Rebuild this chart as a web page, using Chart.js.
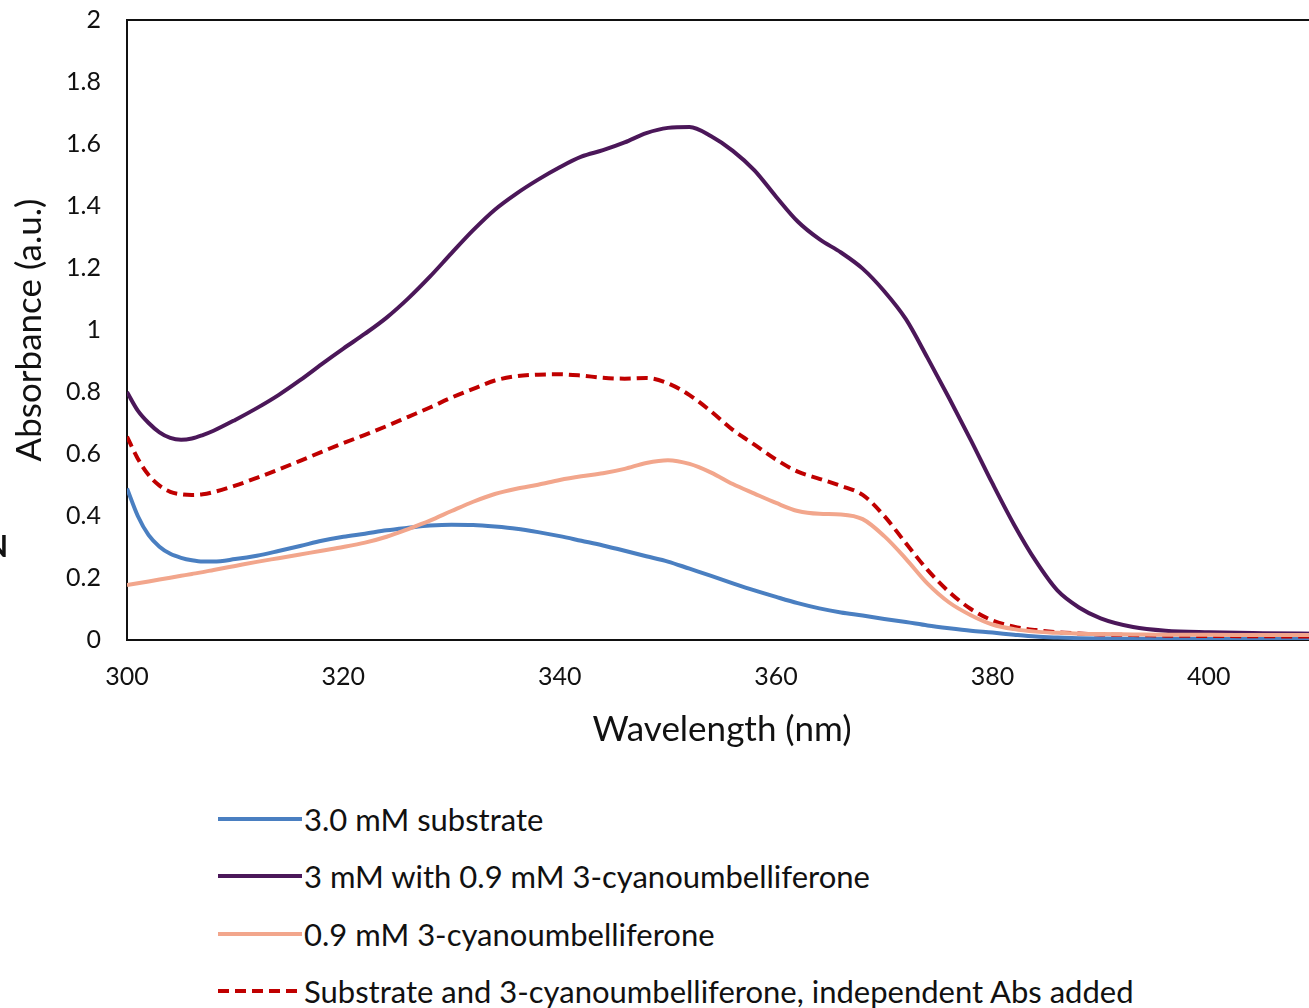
<!DOCTYPE html>
<html>
<head>
<meta charset="utf-8">
<script src="https://cdn.jsdelivr.net/npm/chart.js@4.4.0/dist/chart.umd.min.js"></script>
<style>
  html, body { margin: 0; padding: 0; background: #fff; overflow: hidden; width: 1309px; height: 1008px; }
  #wrap { position: absolute; left: 0; top: 0; width: 1320px; height: 760px; }
  #legend { position: absolute; left: 218px; top: 790px; font-family: Lato, "Open Sans", sans-serif; font-size: 31px; color: #111; }
  .item { height: 57.5px; display: flex; align-items: center; white-space: nowrap; }
  .item svg { width: 84px; height: 10px; margin-right: 2px; flex: none; }
  #tag { position: absolute; left: -15px; top: 527px; font: bold 30px Lato, sans-serif; color: #111; }
</style>
</head>
<body>
<div id="wrap"><canvas id="chart" width="1320" height="760"></canvas></div>
<div id="tag">N</div>
<div id="legend"></div>
<script>
// Wavelength grid (nm)
const wavelengths = [300,301,302,303,304,305,306,307,308,
  310,312,314,316,318,320,322,324,326,328,330,332,334,336,338,340,
  342,344,346,348,350,352,354,356,358,360,362,364,366,368,370,
  372,374,376,378,380,382,384,386,388,390,393,396,400,405,410];

// Absorbance of each sample (a.u.)
const substrate = [0.489,0.400,0.338,0.301,0.278,0.265,0.257,0.253,0.253,
  0.261,0.272,0.287,0.303,0.320,0.333,0.343,0.354,0.362,0.369,0.372,0.371,0.366,0.359,0.348,0.335,
  0.320,0.305,0.288,0.270,0.253,0.230,0.207,0.183,0.160,0.139,0.119,0.102,0.089,0.079,0.068,
  0.058,0.047,0.038,0.030,0.024,0.017,0.011,0.008,0.006,0.005,0.004,0.004,0.004,0.003,0.003];

const mixture = [0.800,0.740,0.700,0.670,0.652,0.646,0.650,0.661,0.675,
  0.710,0.748,0.790,0.838,0.890,0.940,0.988,1.040,1.102,1.172,1.248,1.322,1.388,1.440,1.485,1.525,
  1.559,1.580,1.605,1.635,1.652,1.655,1.625,1.578,1.515,1.430,1.350,1.293,1.250,1.198,1.125,
  1.035,0.910,0.780,0.645,0.505,0.372,0.255,0.160,0.105,0.070,0.042,0.030,0.025,0.022,0.020];

const cyano = [0.177,0.183,0.189,0.195,0.201,0.207,0.213,0.219,0.226,
  0.239,0.252,0.264,0.276,0.288,0.300,0.314,0.333,0.358,0.385,0.416,0.446,0.471,0.488,0.501,0.516,
  0.528,0.538,0.552,0.571,0.580,0.568,0.540,0.503,0.472,0.442,0.416,0.407,0.405,0.390,0.335,
  0.262,0.182,0.121,0.080,0.050,0.035,0.027,0.023,0.020,0.019,0.018,0.017,0.017,0.016,0.016];

const summed = [0.656,0.585,0.532,0.498,0.478,0.470,0.468,0.470,0.477,
  0.498,0.523,0.550,0.578,0.607,0.635,0.662,0.690,0.720,0.750,0.782,0.810,0.837,0.851,0.856,0.857,
  0.853,0.846,0.843,0.845,0.828,0.790,0.737,0.678,0.630,0.582,0.543,0.520,0.497,0.468,0.400,
  0.312,0.226,0.155,0.100,0.063,0.043,0.032,0.025,0.021,0.018,0.016,0.014,0.013,0.012,0.011];

const seriesNames = [
  '3.0 mM substrate',
  '3 mM with 0.9 mM 3-cyanoumbelliferone',
  '0.9 mM 3-cyanoumbelliferone',
  'Substrate and 3-cyanoumbelliferone, independent Abs added'
];

const xTicks = [300, 320, 340, 360, 380, 400];
const yTicks = [0, 0.2, 0.4, 0.6, 0.8, 1, 1.2, 1.4, 1.6, 1.8, 2];
const yTickLabels = ['0','0.2','0.4','0.6','0.8','1','1.2','1.4','1.6','1.8','2'];

const styles = [
  { color: '#4a7fc1', dash: [] },
  { color: '#4b1759', dash: [] },
  { color: '#f2a68c', dash: [] },
  { color: '#c00000', dash: [11, 6] }
];

const seriesValues = [substrate, mixture, cyano, summed];
const toPoints = vals => wavelengths.map((w, i) => ({ x: w, y: vals[i] }));

const datasets = seriesValues.map((vals, i) => ({
  label: seriesNames[i],
  data: toPoints(vals),
  borderColor: styles[i].color,
  borderWidth: 4,
  borderDash: styles[i].dash,
  borderCapStyle: 'butt',
  pointRadius: 0,
  fill: false,
  cubicInterpolationMode: 'monotone'
}));

// Stacking order of the curves (lower order is drawn on top)
const drawOrder = [3, 2, 0, 1];
datasets.forEach((d, i) => { d.order = drawOrder[i]; });

const FONT = 'Lato';

// Plot frame
const framePlugin = {
  id: 'frame',
  beforeDatasetsDraw(chart) {
    const { ctx, chartArea: a } = chart;
    ctx.save();
    ctx.strokeStyle = '#111';
    ctx.lineWidth = 2;
    ctx.beginPath();
    ctx.moveTo(a.left, a.bottom);
    ctx.lineTo(a.left, a.top);
    ctx.lineTo(a.right, a.top);
    ctx.lineTo(a.right, a.bottom);
    ctx.closePath();
    ctx.stroke();
    ctx.restore();
  }
};

new Chart(document.getElementById('chart'), {
  type: 'line',
  data: { datasets },
  plugins: [framePlugin],
  options: {
    responsive: false,
    animation: false,
    layout: { padding: { left: 0, right: 3, top: 0, bottom: 0 } },
    plugins: { legend: { display: false }, tooltip: { enabled: false } },
    scales: {
      x: {
        type: 'linear',
        min: 300,
        max: 410,
        grid: { display: false, drawTicks: false },
        border: { display: false },
        afterBuildTicks: s => { s.ticks = xTicks.map(v => ({ value: v })); },
        afterFit: s => { s.height = 120; },
        ticks: {
          padding: 22,
          color: '#111',
          font: { family: FONT, size: 25 },
          maxRotation: 0
        },
        title: {
          display: true,
          text: 'Wavelength (nm)',
          color: '#111',
          font: { family: FONT, size: 35 },
          padding: { top: 0, bottom: 9 }
        }
      },
      y: {
        min: 0,
        max: 2,
        grid: { display: false, drawTicks: false },
        border: { display: false },
        afterBuildTicks: s => { s.ticks = yTicks.map(v => ({ value: v })); },
        afterFit: s => { s.width = 127; s.paddingTop = 20; s.paddingBottom = 0; },
        ticks: {
          padding: 26,
          color: '#111',
          font: { family: FONT, size: 25 },
          callback: (v) => yTickLabels[yTicks.findIndex(t => Math.abs(t - v) < 1e-9)]
        },
        title: {
          display: true,
          text: 'Absorbance (a.u.)',
          color: '#111',
          font: { family: FONT, size: 35 },
          padding: { top: 9, bottom: 0 }
        }
      }
    }
  }
});

// Vertical legend below the chart
const legend = document.getElementById('legend');
[0, 1, 2, 3].forEach(i => {
  const row = document.createElement('div');
  row.className = 'item';
  const dash = styles[i].dash.length ? ` stroke-dasharray="${styles[i].dash.join(' ')}"` : '';
  row.innerHTML = `<svg viewBox="0 0 84 10"><line x1="0" y1="5" x2="84" y2="5" stroke="${styles[i].color}" stroke-width="4"${dash}/></svg><span>${seriesNames[i]}</span>`;
  legend.appendChild(row);
});
</script>
</body>
</html>
